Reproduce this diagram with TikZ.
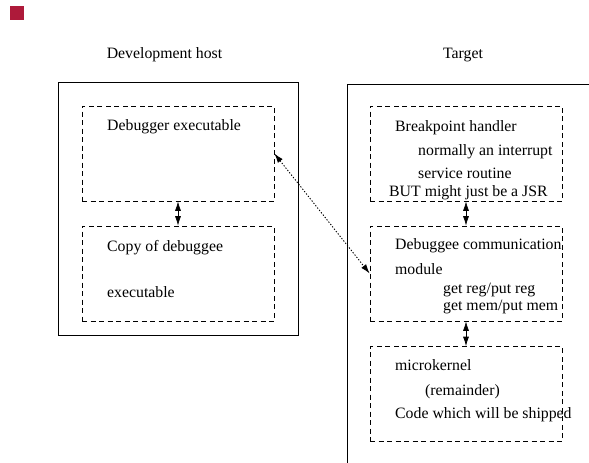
\documentclass[tikz,border=0pt]{standalone}
\usepackage{fontspec}
\setmainfont{Liberation Serif}
\usetikzlibrary{arrows.meta}

\begin{document}
\begin{tikzpicture}[x=1pt,y=-1pt,>={Latex[length=9.5pt,width=6pt]}]

\definecolor{markred}{RGB}{174, 26, 58}

\tikzset{
    txt/.style={
        font=\fontsize{15.8}{19}\selectfont,
        inner sep=0pt, anchor=base west
    },
    host box/.style={
        draw, line width=0.9pt, inner sep=0pt
    },
    part box/.style={
        draw, line width=0.7pt, dash pattern=on 5pt off 3.5pt,
        minimum width=192pt, minimum height=95pt, inner sep=0pt
    },
    link/.style={
        <->, line width=0.7pt
    }
}

% Page frame
\useasboundingbox (0,0) rectangle (589,463);
\clip (0,0) rectangle (589,463);

\node[fill=markred, minimum size=14pt, inner sep=0pt] (mark) at (17,13) {};

% Titles
\node[txt, anchor=base] (hosttitle) at (164.5,58) {Development host};
\node[txt, anchor=base] (targettitle) at (463,58) {Target};

% Outer frames
\node[host box, minimum width=240pt, minimum height=253pt] (host) at (178,208.5) {};
\node[host box, minimum width=253pt, minimum height=396pt] (target) at (473.5,282) {};

% --- DEVELOPMENT HOST ---
\node[part box] (dbg) at (178,153.5) {};
\node[part box] (copy) at (178,273.5) {};

\node[txt] (dbgtxt) at (107,130) {Debugger executable};
\node[txt] (copytxt) at (107,251) {Copy of debuggee};
\node[txt] (copytxtb) at (107,297) {executable};

% --- TARGET ---
\node[part box] (bp) at (466,153.5) {};
\node[part box] (comm) at (466,273.5) {};
\node[part box] (kernel) at (466,394) {};

\node[txt] (bptxt) at (395,131) {Breakpoint handler};
\node[txt] (bptxtb) at (418,155) {normally an interrupt};
\node[txt] (bptxtc) at (418,178) {service routine};
\node[txt] (bptxtd) at (389,196) {BUT might just be a JSR};

\node[txt] (commtxt) at (395,249) {Debuggee communication};
\node[txt] (commtxtb) at (395,274) {module};
\node[txt] (commtxtc) at (443,293) {get reg/put reg};
\node[txt] (commtxtd) at (443,310) {get mem/put mem};

\node[txt] (kerneltxt) at (395,370) {microkernel};
\node[txt] (kerneltxtb) at (425,395) {(remainder)};
\node[txt] (kerneltxtc) at (395,418) {Code which will be shipped};

% Links
\draw[link] (dbg.south) -- (copy.north);
\draw[link] (bp.south) -- (comm.north);
\draw[link] (comm.south) -- (kernel.north);
\draw[link, line width=0.9pt, dash pattern=on 1.3pt off 1.7pt] (dbg.east) -- (comm.west);

\end{tikzpicture}
\end{document}
